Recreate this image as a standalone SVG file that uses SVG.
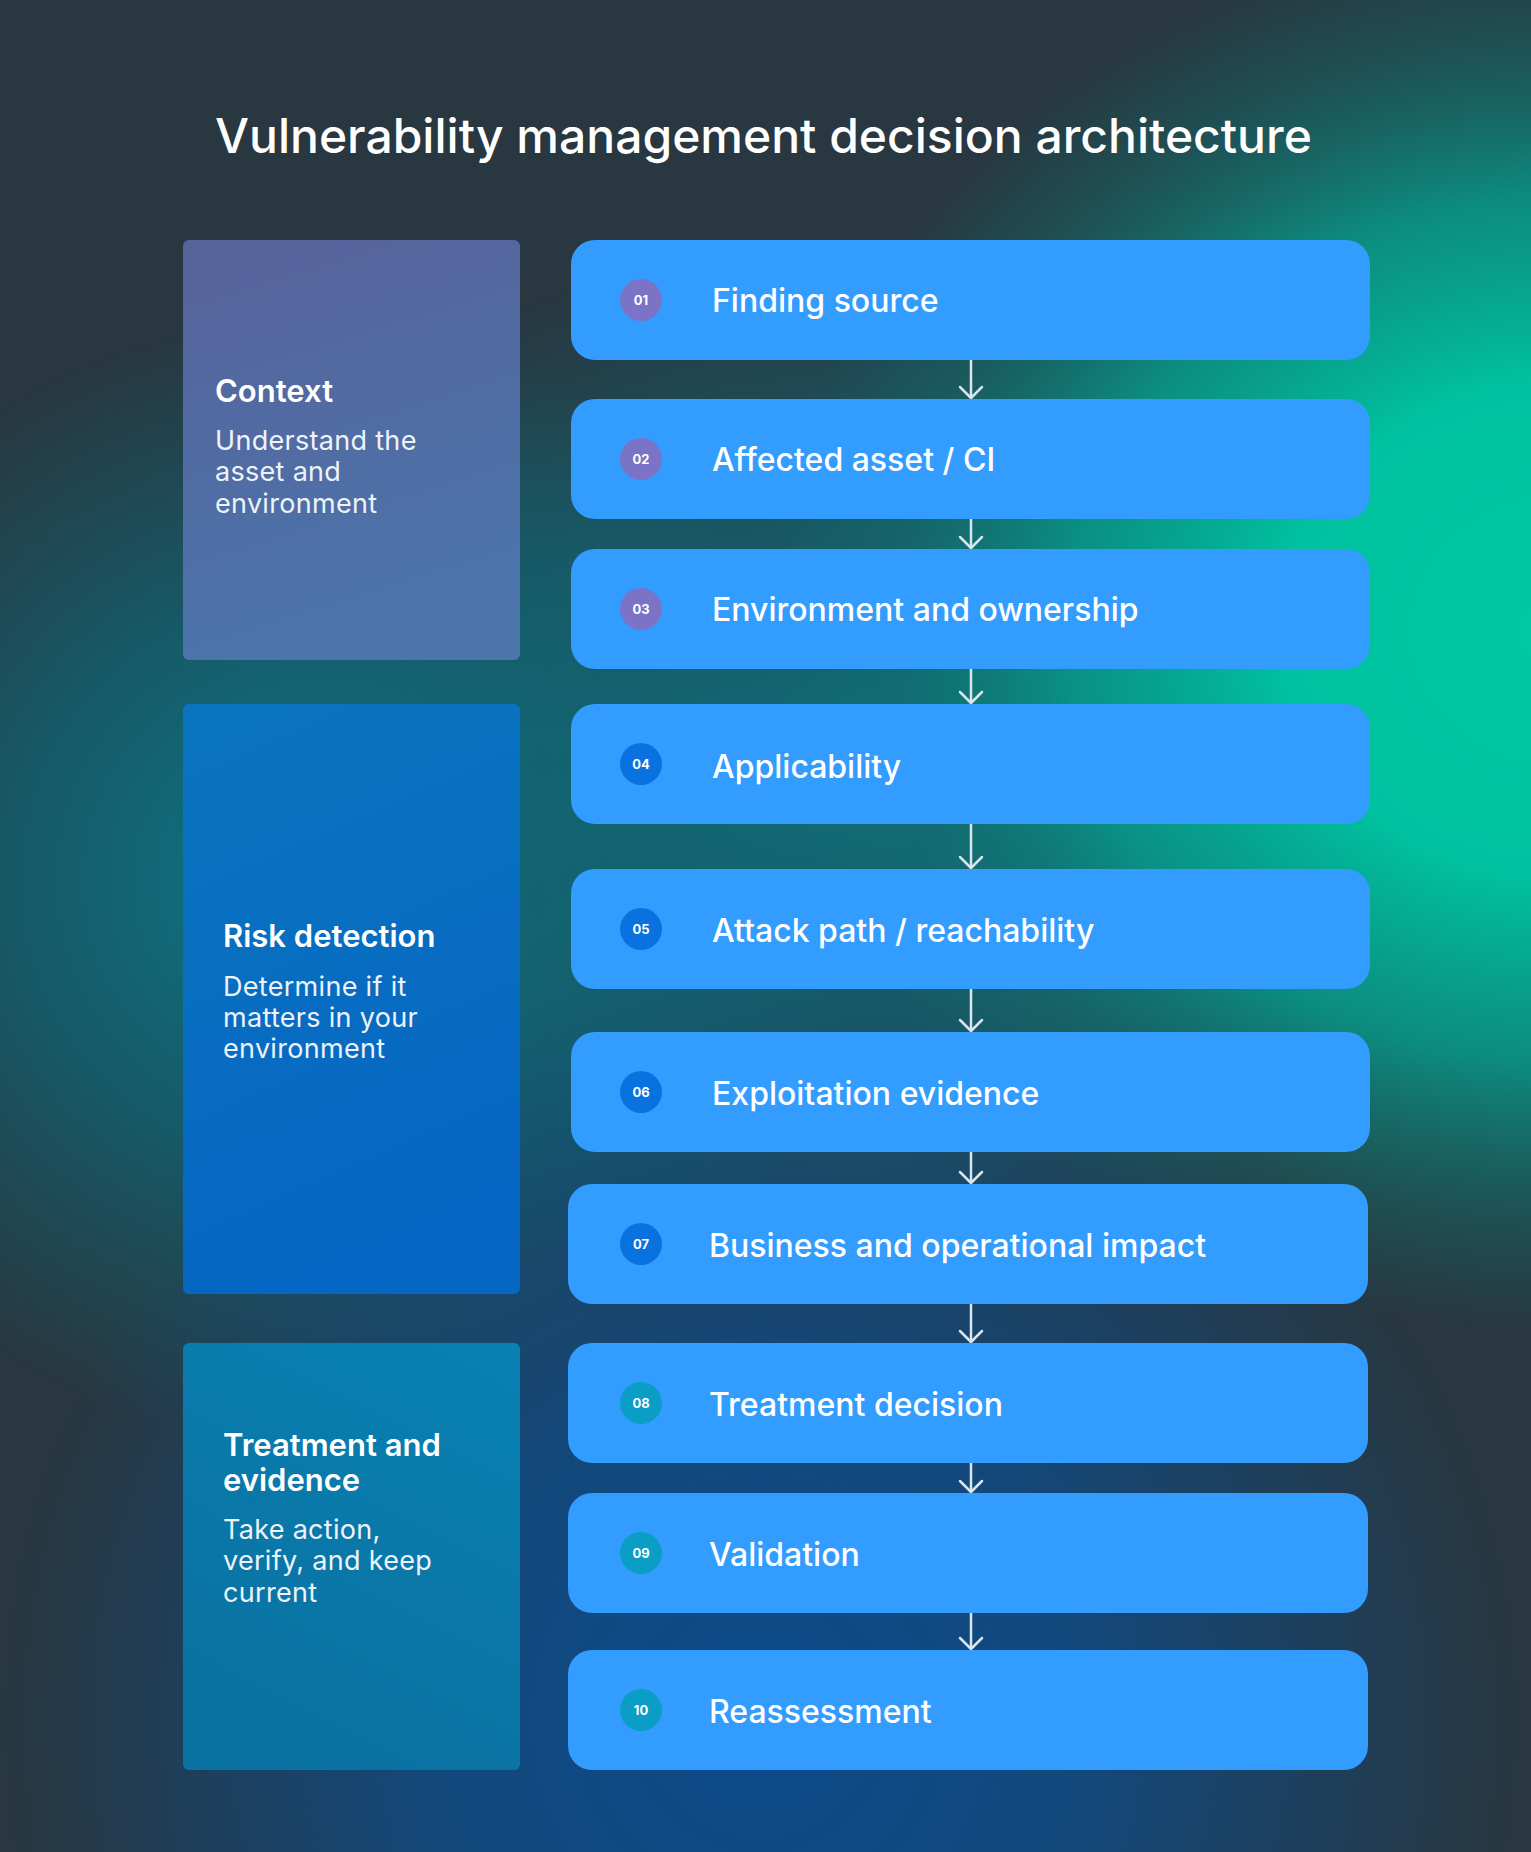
<svg xmlns="http://www.w3.org/2000/svg" width="1531" height="1852" viewBox="0 0 1531 1852">
  <defs>
    <radialGradient id="gGreen" gradientUnits="userSpaceOnUse" cx="0" cy="0" r="1" gradientTransform="translate(1565 630) scale(800 700)">
      <stop offset="0" stop-color="#00c9a3"/>
      <stop offset="0.35" stop-color="#00c2a0"/>
      <stop offset="0.62" stop-color="#06a08e" stop-opacity="0.8"/>
      <stop offset="0.85" stop-color="#0e7a76" stop-opacity="0.35"/>
      <stop offset="1" stop-color="#0e7a76" stop-opacity="0"/>
    </radialGradient>
    <radialGradient id="gMid" gradientUnits="userSpaceOnUse" cx="0" cy="0" r="1" gradientTransform="translate(820 780) scale(620 540)">
      <stop offset="0" stop-color="#0e6f7a" stop-opacity="0.95"/>
      <stop offset="0.55" stop-color="#116674" stop-opacity="0.6"/>
      <stop offset="1" stop-color="#116674" stop-opacity="0"/>
    </radialGradient>
    <radialGradient id="gTeal" gradientUnits="userSpaceOnUse" cx="300" cy="880" r="560">
      <stop offset="0" stop-color="#0c7a88"/>
      <stop offset="0.5" stop-color="#0f6878" stop-opacity="0.7"/>
      <stop offset="1" stop-color="#0f6878" stop-opacity="0"/>
    </radialGradient>
    <radialGradient id="gBlue" gradientUnits="userSpaceOnUse" cx="760" cy="1720" r="760">
      <stop offset="0" stop-color="#0d4a8c"/>
      <stop offset="0.45" stop-color="#0e4c88" stop-opacity="0.8"/>
      <stop offset="1" stop-color="#0e4c88" stop-opacity="0"/>
    </radialGradient>
    <linearGradient id="pCtx" x1="0" y1="0" x2="0.25" y2="1">
      <stop offset="0" stop-color="#57629a"/>
      <stop offset="1" stop-color="#4b75ab"/>
    </linearGradient>
    <linearGradient id="pRisk" x1="0" y1="0" x2="0.25" y2="1">
      <stop offset="0" stop-color="#0a75bf"/>
      <stop offset="1" stop-color="#0566c3"/>
    </linearGradient>
    <linearGradient id="pTreat" x1="1" y1="0" x2="0.6" y2="1">
      <stop offset="0" stop-color="#0881b3"/>
      <stop offset="1" stop-color="#0a72a2"/>
    </linearGradient>
    <marker id="arr" viewBox="-15 -15 30 30" refX="0" refY="0" markerWidth="30" markerHeight="30" markerUnits="userSpaceOnUse" orient="auto">
      <path d="M-11,-11 L0,0 L-11,11" fill="none" stroke="#dbe5ee" stroke-width="2.5" stroke-linecap="round" stroke-linejoin="round"/>
    </marker>
    <style>
      .title { font-family: Inter, "Liberation Sans", sans-serif; font-weight: 500; font-size: 48px; fill: #ffffff; }
      .ptitle { font-family: Inter, "Liberation Sans", sans-serif; font-weight: 600; font-size: 31px; fill: #ffffff; }
      .psub { font-family: Inter, "Liberation Sans", sans-serif; font-weight: 400; font-size: 27px; letter-spacing: 0.3px; fill: #eef3fa; }
      .step { fill: #339cff; }
      .label { font-family: Inter, "Liberation Sans", sans-serif; font-weight: 500; font-size: 32px; fill: #ffffff; }
      .num { font-family: Inter, "Liberation Sans", sans-serif; font-weight: 700; font-size: 13px; fill: #ffffff; text-anchor: middle; }
      .c1 { fill: #7b73c6; }
      .c2 { fill: #0a72e0; }
      .c3 { fill: #0a9ec6; }
      .conn { stroke: #dbe5ee; stroke-width: 2.5; fill: none; marker-end: url(#arr); }
    </style>
  </defs>

  <g id="background">
    <rect x="0" y="0" width="1531" height="1852" fill="#283740"/>
    <rect x="0" y="0" width="1531" height="1852" fill="url(#gTeal)"/>
    <rect x="0" y="0" width="1531" height="1852" fill="url(#gMid)"/>
    <rect x="0" y="0" width="1531" height="1852" fill="url(#gBlue)"/>
    <rect x="0" y="0" width="1531" height="1852" fill="url(#gGreen)"/>
  </g>

  <text class="title" x="215" y="153">Vulnerability management decision architecture</text>

  <g id="panel-context">
    <rect x="183" y="240" width="337" height="420" rx="6" fill="url(#pCtx)"/>
    <text class="ptitle" x="215" y="402">Context</text>
    <text class="psub" x="215" y="450">Understand the</text>
    <text class="psub" x="215" y="481">asset and</text>
    <text class="psub" x="215" y="513">environment</text>
  </g>

  <g id="panel-risk">
    <rect x="183" y="704" width="337" height="590" rx="6" fill="url(#pRisk)"/>
    <text class="ptitle" x="223" y="947">Risk detection</text>
    <text class="psub" x="223" y="996">Determine if it</text>
    <text class="psub" x="223" y="1027">matters in your</text>
    <text class="psub" x="223" y="1058">environment</text>
  </g>

  <g id="panel-treatment">
    <rect x="183" y="1343" width="337" height="427" rx="6" fill="url(#pTreat)"/>
    <text class="ptitle" x="223" y="1456">Treatment and</text>
    <text class="ptitle" x="223" y="1491">evidence</text>
    <text class="psub" x="223" y="1539">Take action,</text>
    <text class="psub" x="223" y="1570">verify, and keep</text>
    <text class="psub" x="223" y="1602">current</text>
  </g>

  <g id="connectors">
    <line class="conn" x1="971" y1="360" x2="971" y2="398"/>
    <line class="conn" x1="971" y1="519" x2="971" y2="548"/>
    <line class="conn" x1="971" y1="669" x2="971" y2="703"/>
    <line class="conn" x1="971" y1="824" x2="971" y2="868"/>
    <line class="conn" x1="971" y1="989" x2="971" y2="1031"/>
    <line class="conn" x1="971" y1="1152" x2="971" y2="1183"/>
    <line class="conn" x1="971" y1="1304" x2="971" y2="1342"/>
    <line class="conn" x1="971" y1="1463" x2="971" y2="1492"/>
    <line class="conn" x1="971" y1="1613" x2="971" y2="1649"/>
  </g>

  <g id="step-01">
    <rect class="step" x="571" y="240" width="799" height="120" rx="24"/>
    <circle class="c1" cx="641" cy="300" r="21"/>
    <text class="num" x="641" y="304.5">01</text>
    <text class="label" x="712" y="311.5">Finding source</text>
  </g>
  <g id="step-02">
    <rect class="step" x="571" y="399" width="799" height="120" rx="24"/>
    <circle class="c1" cx="641" cy="459" r="21"/>
    <text class="num" x="641" y="463.5">02</text>
    <text class="label" x="712" y="471">Affected asset / CI</text>
  </g>
  <g id="step-03">
    <rect class="step" x="571" y="549" width="799" height="120" rx="24"/>
    <circle class="c1" cx="641" cy="609" r="21"/>
    <text class="num" x="641" y="613.5">03</text>
    <text class="label" x="712" y="621">Environment and ownership</text>
  </g>
  <g id="step-04">
    <rect class="step" x="571" y="704" width="799" height="120" rx="24"/>
    <circle class="c2" cx="641" cy="764" r="21"/>
    <text class="num" x="641" y="768.5">04</text>
    <text class="label" x="712" y="778">Applicability</text>
  </g>
  <g id="step-05">
    <rect class="step" x="571" y="869" width="799" height="120" rx="24"/>
    <circle class="c2" cx="641" cy="929" r="21"/>
    <text class="num" x="641" y="933.5">05</text>
    <text class="label" x="712" y="942">Attack path / reachability</text>
  </g>
  <g id="step-06">
    <rect class="step" x="571" y="1032" width="799" height="120" rx="24"/>
    <circle class="c2" cx="641" cy="1092" r="21"/>
    <text class="num" x="641" y="1096.5">06</text>
    <text class="label" x="712" y="1105">Exploitation evidence</text>
  </g>
  <g id="step-07">
    <rect class="step" x="568" y="1184" width="800" height="120" rx="24"/>
    <circle class="c2" cx="641" cy="1244" r="21"/>
    <text class="num" x="641" y="1248.5">07</text>
    <text class="label" x="709" y="1257">Business and operational impact</text>
  </g>
  <g id="step-08">
    <rect class="step" x="568" y="1343" width="800" height="120" rx="24"/>
    <circle class="c3" cx="641" cy="1403" r="21"/>
    <text class="num" x="641" y="1407.5">08</text>
    <text class="label" x="709" y="1416">Treatment decision</text>
  </g>
  <g id="step-09">
    <rect class="step" x="568" y="1493" width="800" height="120" rx="24"/>
    <circle class="c3" cx="641" cy="1553" r="21"/>
    <text class="num" x="641" y="1557.5">09</text>
    <text class="label" x="709" y="1566">Validation</text>
  </g>
  <g id="step-10">
    <rect class="step" x="568" y="1650" width="800" height="120" rx="24"/>
    <circle class="c3" cx="641" cy="1710" r="21"/>
    <text class="num" x="641" y="1714.5">10</text>
    <text class="label" x="709" y="1723">Reassessment</text>
  </g>
</svg>
